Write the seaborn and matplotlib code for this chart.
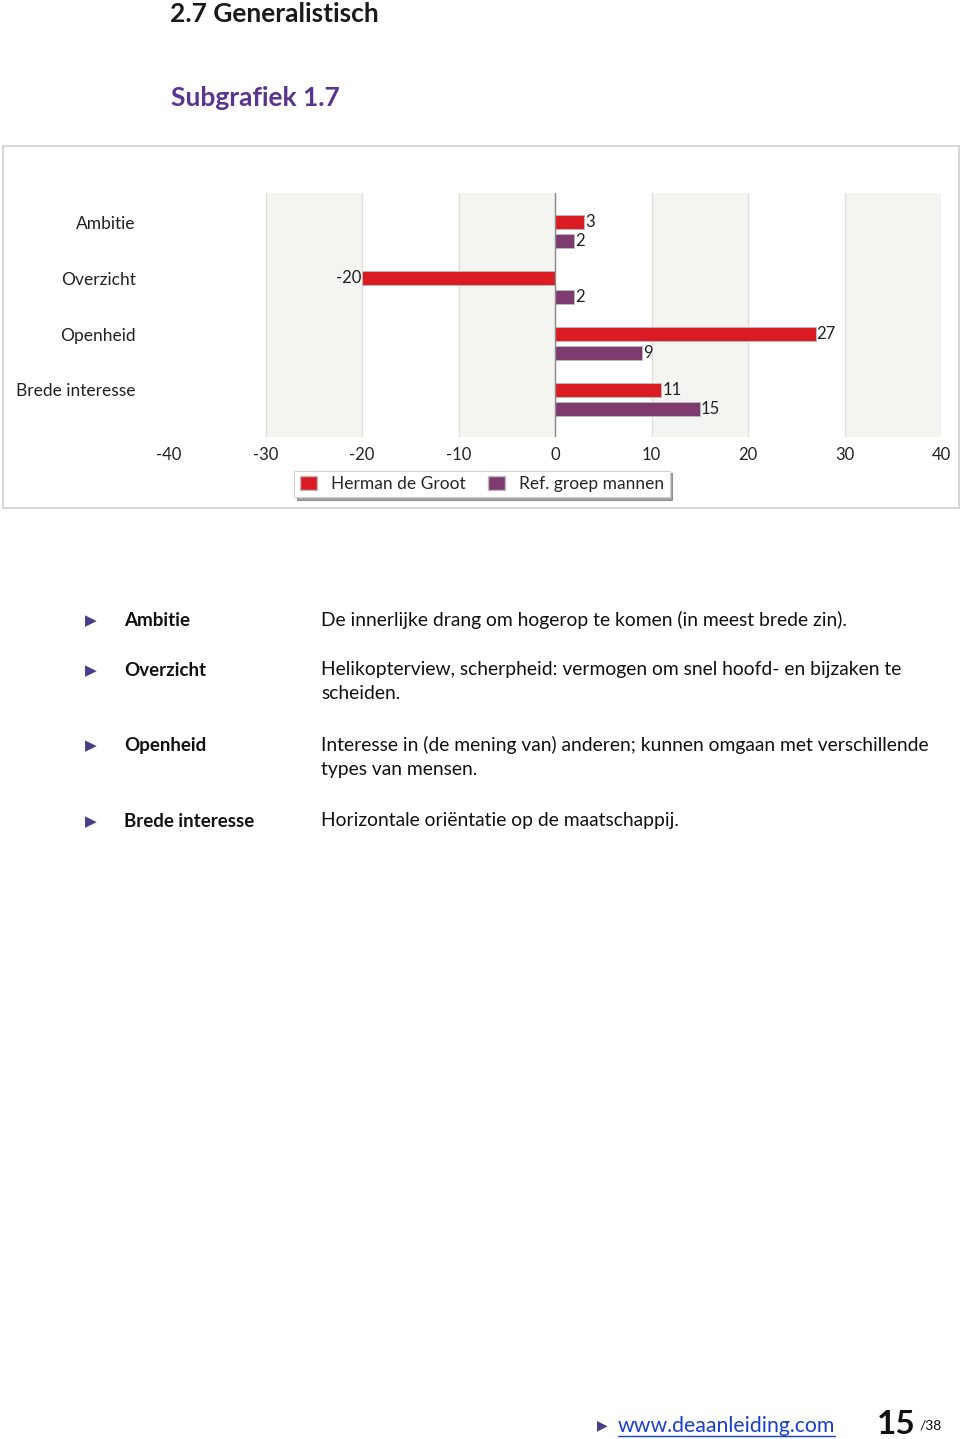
import matplotlib
matplotlib.use('Agg')
import matplotlib.pyplot as plt
import matplotlib.patches as mpatches
import seaborn as sns
import pandas as pd
import numpy as np

# data
categories = ['Ambitie', 'Overzicht', 'Openheid', 'Brede interesse']
herman = [3, -20, 27, 11]
ref_mannen = [2, 2, 9, 15]
series_names = ['Herman de Groot', 'Ref. groep mannen']
x_ticks = [-40, -30, -20, -10, 0, 10, 20, 30, 40]

terms = ['Ambitie', 'Overzicht', 'Openheid', 'Brede interesse']
definitions = [
    'De innerlijke drang om hogerop te komen (in meest brede zin).',
    'Helikopterview, scherpheid: vermogen om snel hoofd- en bijzaken te\nscheiden.',
    'Interesse in (de mening van) anderen; kunnen omgaan met verschillende\ntypes van mensen.',
    'Horizontale oriëntatie op de maatschappij.',
]

RED = '#dc1c24'
PURPLE = '#7d3b6f'
BULLET = '#4a3b8c'

sns.set_theme(style='white')
plt.rcParams['font.family'] = ['Lato', 'DejaVu Sans']

df = pd.DataFrame({
    'categorie': categories * 2,
    'waarde': herman + ref_mannen,
    'reeks': [series_names[0]] * 4 + [series_names[1]] * 4,
})

W, H = 960, 1439
fig = plt.figure(figsize=(W / 100, H / 100), dpi=100)

def fx(px):
    return px / W

def fy(py):
    return 1 - py / H

# chart frame
fig.add_artist(mpatches.Rectangle((fx(3), fy(508)), fx(956), (508 - 146) / H,
                                  transform=fig.transFigure, fill=False,
                                  edgecolor='#cfcfcf', linewidth=1.2))

ax = fig.add_axes([fx(169), fy(437), fx(941 - 169), (437 - 193) / H])

# alternating background bands and grid
for lo in [-30, -10, 10, 30]:
    ax.axvspan(lo, lo + 10, color='#f4f4f1', zorder=0, lw=0)
for t in x_ticks[1:]:
    ax.axvline(t, color='#dedede', lw=0.9, zorder=0.5)

sns.barplot(data=df, y='categorie', x='waarde', hue='reeks', orient='h',
            palette=[RED, PURPLE], saturation=1, width=0.68, gap=0.26, ax=ax,
            edgecolor='#bdbdbd', linewidth=0.6, legend=False, zorder=2)

ax.axvline(0, color='#8a8a8a', lw=1.0, zorder=3)

for cont in ax.containers:
    for bar in cont:
        w = bar.get_width()
        yc = bar.get_y() + bar.get_height() / 2
        if w >= 0:
            ax.text(w + 0.1, yc, f'{w:g}', va='center', ha='left', fontsize=12, color='#222222', zorder=4)
        else:
            ax.text(w - 0.1, yc, f'{w:g}', va='center', ha='right', fontsize=12, color='#222222', zorder=4)

ax.set_xlim(-40, 40)
ax.set_ylim(3.67, -0.69)
ax.set_xticks(x_ticks)
ax.set_xticklabels([str(t) for t in x_ticks], fontsize=12, color='#222222')
ax.set_yticks(np.arange(len(categories)) - 0.17)
ax.set_yticklabels(categories, fontsize=12.5, color='#222222')
ax.tick_params(axis='x', length=0, pad=7)
ax.tick_params(axis='y', length=0, pad=24)
ax.set_xlabel('')
ax.set_ylabel('')
for s in ax.spines.values():
    s.set_visible(False)

handles = [mpatches.Patch(facecolor=RED, edgecolor='#bdbdbd'),
           mpatches.Patch(facecolor=PURPLE, edgecolor='#bdbdbd')]
leg = fig.legend(handles, series_names, loc='center', ncol=2,
                 bbox_to_anchor=(fx(482), fy(484)), fontsize=12.5,
                 frameon=True, fancybox=False, shadow=True,
                 handlelength=1.0, handleheight=0.9, handletextpad=0.8,
                 columnspacing=1.3, borderpad=0.3)
leg.get_frame().set_edgecolor('#d0d0d0')
leg.get_frame().set_linewidth(0.8)

# page text
fig.text(fx(170), fy(14), '2.7 Generalistisch', fontsize=19, fontweight='bold',
         color='#1a1a1a', va='center', ha='left')
fig.text(fx(171), fy(98), 'Subgrafiek 1.7', fontsize=19, fontweight='bold',
         color='#5a3590', va='center', ha='left')

rows_y = [621, 671, 746, 822]
for term, definition, ry in zip(terms, definitions, rows_y):
    fig.text(fx(85), fy(ry), '▶', fontsize=11, color=BULLET, va='center', ha='left',
             family='DejaVu Sans')
    fig.text(fx(124), fy(ry), term, fontsize=13.5, fontweight='bold', color='#111111',
             va='center', ha='left')
    fig.text(fx(321), fy(ry - 10), definition, fontsize=13.9, color='#111111',
             va='top', ha='left', linespacing=1.5)

# footer
fig.text(fx(597), fy(1425), '▶', fontsize=10, color=BULLET, va='center', ha='left',
         family='DejaVu Sans')
fig.text(fx(618), fy(1426), 'www.deaanleiding.com', fontsize=15.3, color='#1a3fcf',
         va='center', ha='left')
fig.add_artist(plt.Line2D([fx(618), fx(835)], [fy(1436), fy(1436)],
                          transform=fig.transFigure, color='#1a3fcf', lw=1))
fig.text(fx(877), fy(1425), '15', fontsize=24, fontweight='bold', color='#111111',
         va='center', ha='left')
fig.text(fx(920), fy(1425), '/38', fontsize=10, color='#111111', va='center', ha='left')

fig.savefig('out.png', dpi=100)
